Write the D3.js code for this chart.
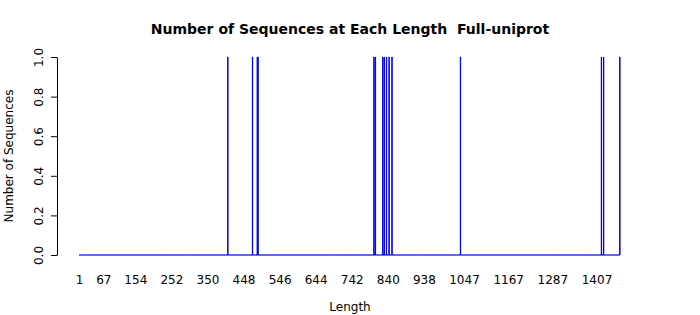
<!DOCTYPE html>
<html>
<head>
<meta charset="utf-8">
<script src="https://cdn.jsdelivr.net/npm/d3@7"></script>
<style>
  body { margin: 0; background: #fff; }
  svg text { font-family: "DejaVu Sans", sans-serif; fill: #000; }
</style>
</head>
<body>
<div id="chart"></div>
<script>
// lengths run from minLength to maxLength, one bar per length
const minLength = 1;
const maxLength = 1470;
// lengths that have at least one sequence
const observedLengths = [405, 472, 485, 487, 802, 806, 826, 830, 836, 843, 851, 1037, 1420, 1426, 1470];
const observedCounts  = [1, 1, 1, 1, 1, 1, 1, 1, 1, 1, 1, 1, 1, 1, 1];
const xTickLabels = [1, 67, 154, 252, 350, 448, 546, 644, 742, 840, 938, 1047, 1167, 1287, 1407];
const yTicks = [0, 0.2, 0.4, 0.6, 0.8, 1.0];

const width = 700, height = 315;
const barsLeft = 79, barsRight = 620;
const plotTop = 57, plotBottom = 255, axisX = 57;

const countByLength = new Map(observedLengths.map((l, i) => [l, observedCounts[i]]));
const lengths = d3.range(minLength, maxLength + 1);
const data = lengths.map(l => ({ length: l, count: countByLength.get(l) || 0 }));

const svg = d3.select("#chart").append("svg")
    .attr("width", width)
    .attr("height", height);

const x = d3.scaleBand()
    .domain(lengths)
    .range([barsLeft, barsRight])
    .paddingInner(0.2 / 1.2)
    .paddingOuter(0);

const y = d3.scaleLinear()
    .domain([0, 1])
    .range([plotBottom, plotTop]);

// bars drawn as outlines so empty lengths still leave their baseline edge
svg.append("g")
  .selectAll("path")
  .data(data)
  .enter()
  .append("path")
    .attr("d", d => {
        const x0 = x(d.length), x1 = x0 + x.bandwidth();
        return `M${x0},${y(0)}V${y(d.count)}H${x1}V${y(0)}Z`;
    })
    .attr("fill", "blue")
    .attr("stroke", "blue")
    .attr("stroke-width", 1);

// y axis
const yAxis = svg.append("g")
    .attr("transform", `translate(${axisX},0)`)
    .call(d3.axisLeft(y).tickValues(yTicks).tickSize(6).tickSizeOuter(0).tickFormat(d3.format(".1f")));
yAxis.select(".domain").attr("stroke", "#000");
yAxis.selectAll(".tick line").attr("stroke", "#000");
yAxis.selectAll(".tick text")
    .attr("font-size", 12)
    .attr("font-family", "DejaVu Sans")
    .attr("x", null).attr("dy", null)
    .attr("text-anchor", "middle")
    .attr("transform", `translate(-14,0) rotate(-90)`);

// x axis: labels only, no line
const xAxis = svg.append("g")
    .attr("transform", `translate(0,${plotBottom})`)
    .call(d3.axisBottom(x).tickValues(xTickLabels).tickSize(0));
xAxis.select(".domain").remove();
xAxis.selectAll(".tick text")
    .attr("font-size", 12)
    .attr("font-family", "DejaVu Sans")
    .attr("y", 28.5)
    .attr("dy", null);

svg.append("text")
    .attr("x", 350)
    .attr("y", 34)
    .attr("text-anchor", "middle")
    .attr("font-size", 14)
    .attr("font-weight", "bold")
    .style("white-space", "pre")
    .text("Number of Sequences at Each Length  Full-uniprot");

svg.append("text")
    .attr("x", 350)
    .attr("y", 311)
    .attr("text-anchor", "middle")
    .attr("font-size", 12)
    .text("Length");

svg.append("text")
    .attr("transform", `translate(13,${(plotTop + plotBottom) / 2}) rotate(-90)`)
    .attr("text-anchor", "middle")
    .attr("font-size", 12)
    .text("Number of Sequences");
</script>
</body>
</html>
